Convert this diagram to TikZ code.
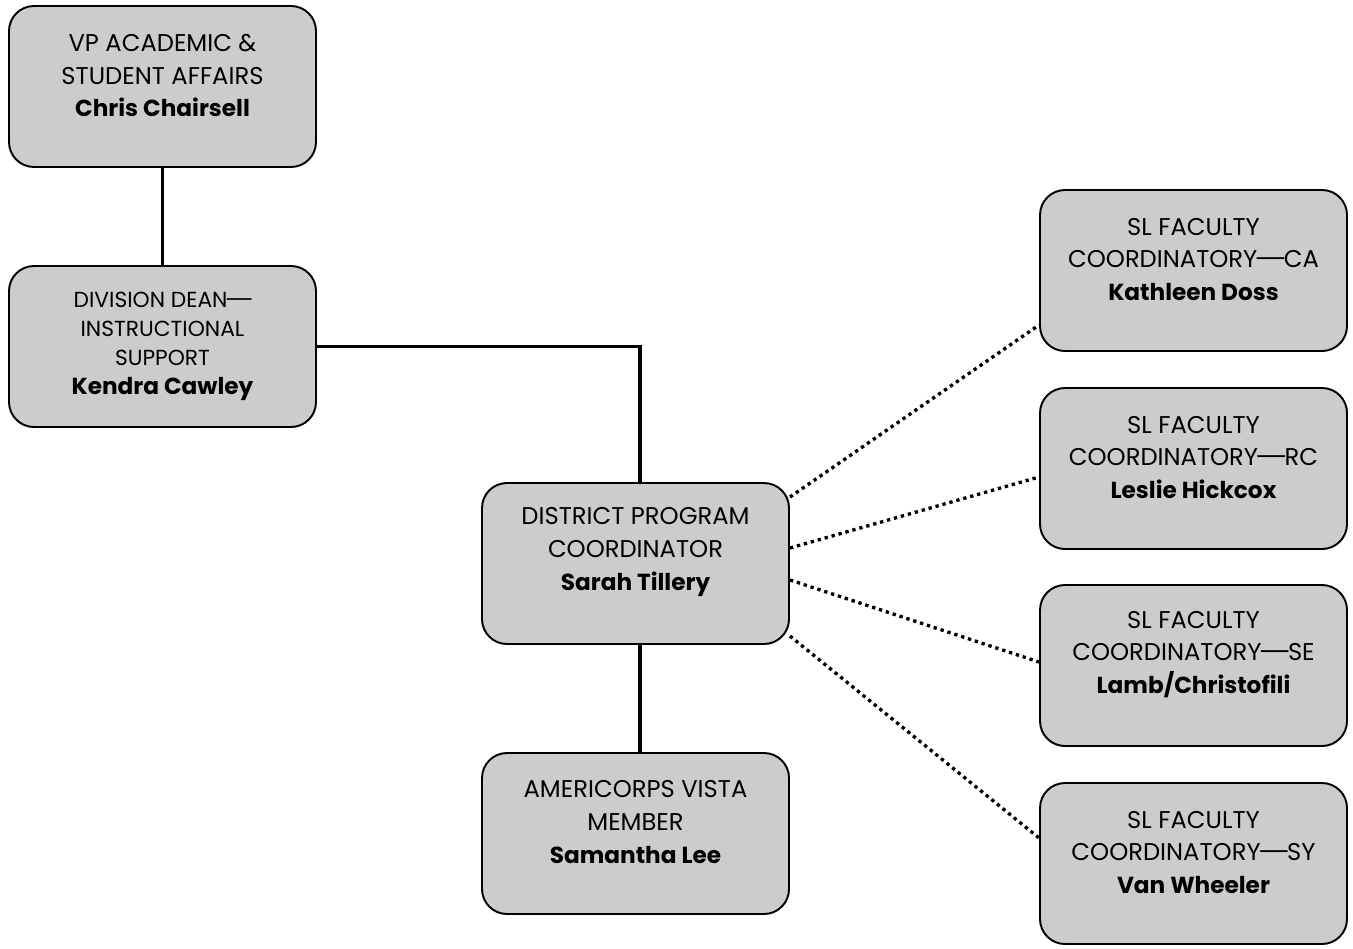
\documentclass[tikz,border=0pt]{standalone}
\usepackage{fontspec}
\usepackage{graphicx}
\setmainfont{Poppins}
\definecolor{boxgray}{HTML}{CCCCCC}

\tikzset{
  card/.style={draw, line width=1.1pt, fill=boxgray, rounded corners=0.5cm,
    minimum width=6.14cm, minimum height=3.22cm},
  cardtext/.style={align=center, font=\fontsize{13.8}{18.7}\selectfont},
  link/.style={line width=1.8pt},
  dotlink/.style={line width=1.9pt, dash pattern=on 1.9pt off 2.2pt}
}
\newcommand{\who}[1]{{\fontsize{13.2}{18.7}\selectfont\textbf{#1}}}
\newcommand{\longdash}{\kern-0.14em\scalebox{1.55}[1]{—}\kern-0.14em}

\begin{document}
\begin{tikzpicture}

\useasboundingbox (0,0) rectangle (27.06,-18.96);

% boxes
\node [card] (vp) at (3.25,-1.73) {};
\node [card] (dean) at (3.25,-6.93) {};
\node [card] (dpc) at (12.71,-11.27) {};
\node [card] (vista) at (12.71,-16.67) {};
\node [card] (ca) at (23.87,-5.41) {};
\node [card] (rc) at (23.87,-9.37) {};
\node [card] (se) at (23.87,-13.31) {};
\node [card] (sy) at (23.87,-17.27) {};

% texts
\node [cardtext] (vp-t) at ([yshift=2.2mm]vp.center)
   {VP ACADEMIC \&\\STUDENT AFFAIRS\\\who{Chris Chairsell}};
\node [cardtext, font=\fontsize{12.4}{16.4}\selectfont] (dean-t) at (dean.center)
   {DIVISION DEAN\longdash\\INSTRUCTIONAL\\SUPPORT\\\who{Kendra Cawley}};
\node [cardtext] (dpc-t) at ([yshift=2.3mm]dpc.center)
   {DISTRICT PROGRAM\\COORDINATOR\\\who{Sarah Tillery}};
\node [cardtext] (vista-t) at ([yshift=2.3mm]vista.center)
   {AMERICORPS VISTA\\MEMBER\\\who{Samantha Lee}};
\node [cardtext] (ca-t) at ([yshift=2.2mm]ca.center)
   {SL FACULTY\\COORDINATORY\longdash CA\\\who{Kathleen Doss}};
\node [cardtext] (rc-t) at ([yshift=2.2mm]rc.center)
   {SL FACULTY\\COORDINATORY\longdash RC\\\who{Leslie Hickcox}};
\node [cardtext] (se-t) at ([yshift=2.2mm]se.center)
   {SL FACULTY\\COORDINATORY\longdash SE\\\who{Lamb/Christofili}};
\node [cardtext] (sy-t) at ([yshift=2.2mm]sy.center)
   {SL FACULTY\\COORDINATORY\longdash SY\\\who{Van Wheeler}};

% reporting lines
\draw [link] (vp.south) -- (dean.north);
\draw [link] (dean.east) -| ([xshift=0.9mm]dpc.north);
\draw [link] ([xshift=0.9mm]dpc.south) -- ([xshift=0.9mm]vista.north);

% dotted lines to the faculty coordinators
\foreach \a/\b/\t in {13.3/ca/-10.9, 3.1/rc/-1.7, -3.3/se/0.7, -14.5/sy/5.1}
   \draw [dotlink] ([yshift=\a mm]dpc.east) -- ([yshift=\t mm]\b.west);

\end{tikzpicture}
\end{document}
